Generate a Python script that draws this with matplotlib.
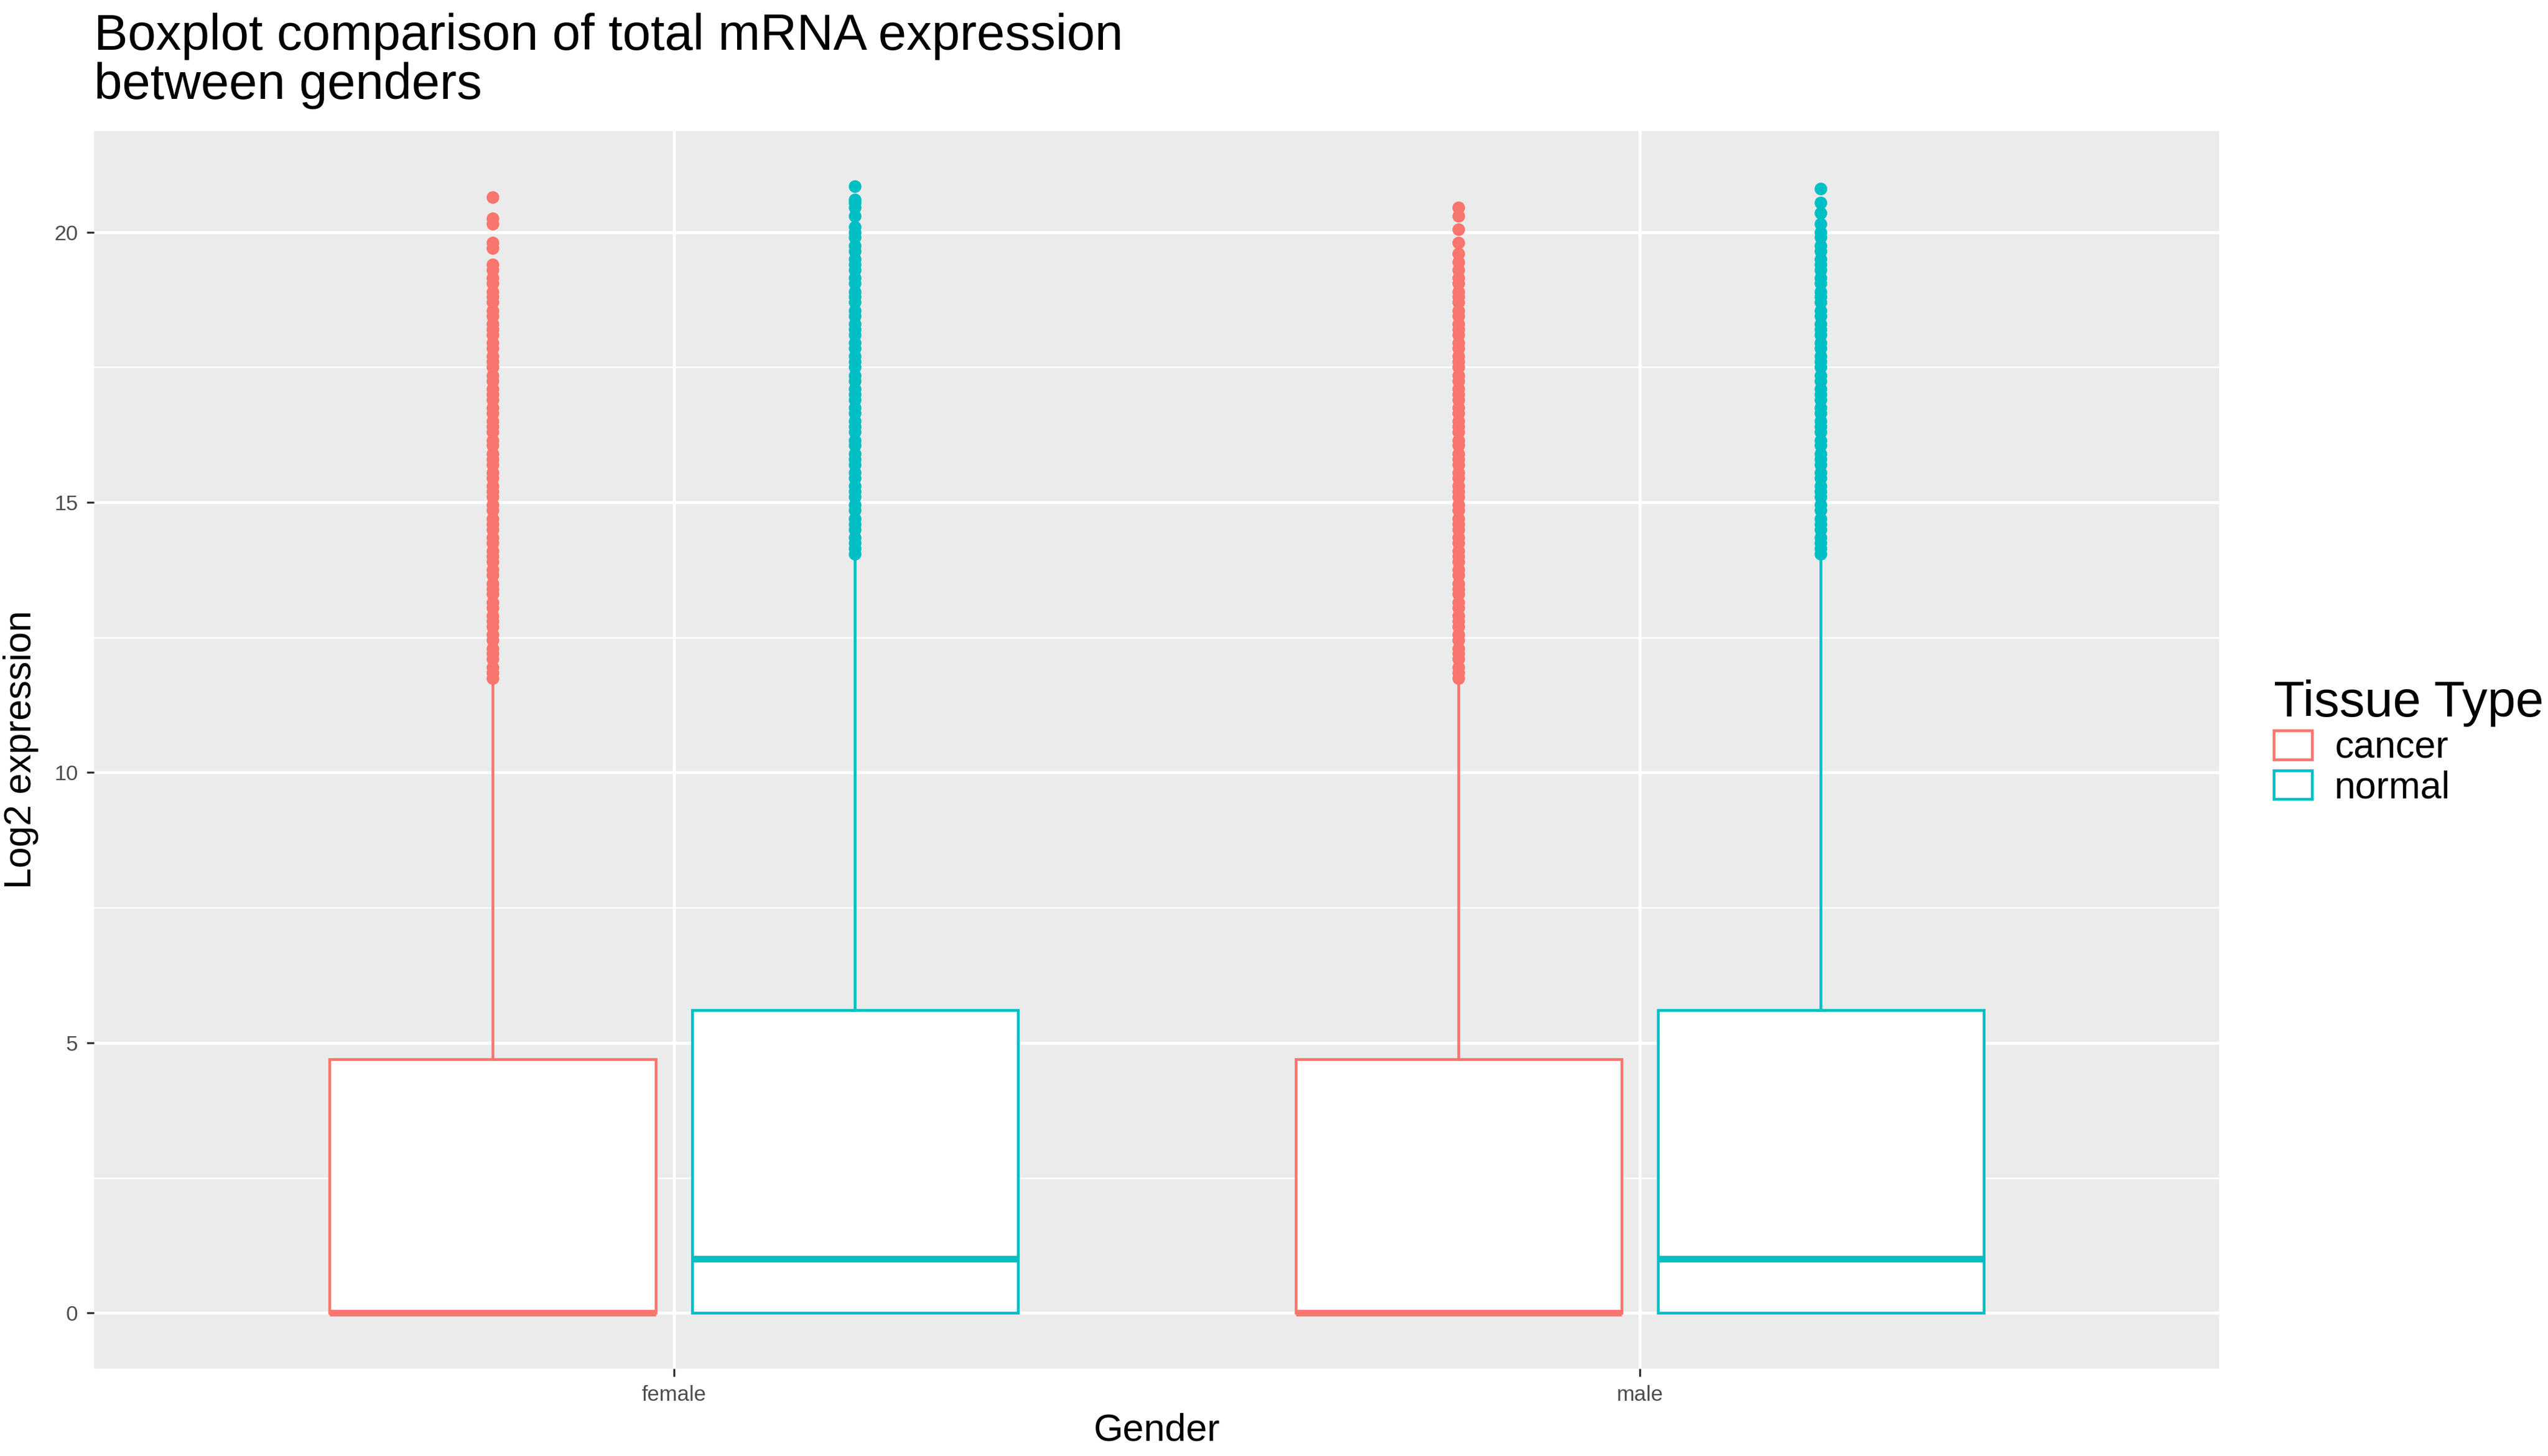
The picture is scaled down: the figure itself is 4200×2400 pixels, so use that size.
import matplotlib.pyplot as plt
from matplotlib.patches import Patch

plt.rcParams['font.family'] = ['Liberation Sans', 'DejaVu Sans']

genders = ["female", "male"]
tissues = ["cancer", "normal"]
colors = {"cancer": "#F8766D", "normal": "#00BFC4"}

# box statistics: q1, median, q3, lower/upper whisker
q1 = {"cancer": [0.0, 0.0], "normal": [0.0, 0.0]}
med = {"cancer": [0.0, 0.0], "normal": [1.0, 1.0]}
q3 = {"cancer": [4.7, 4.7], "normal": [5.6, 5.6]}
whislo = {"cancer": [0.0, 0.0], "normal": [0.0, 0.0]}
whishi = {"cancer": [11.7, 11.7], "normal": [14.0, 14.0]}

cancer_out_f = [11.75, 11.85, 11.95, 12.1, 12.2, 12.3, 12.45, 12.55, 12.7, 12.8, 12.9, 13.05, 13.15,
                13.3, 13.4, 13.5, 13.65, 13.75, 13.9, 14.0, 14.1, 14.25, 14.35, 14.5, 14.6, 14.7,
                14.85, 14.95, 15.1, 15.2, 15.3, 15.45, 15.55, 15.7, 15.8, 15.9, 16.05, 16.15,
                16.3, 16.4, 16.5, 16.65, 16.75, 16.9, 17.0, 17.1, 17.25, 17.35, 17.5, 17.6, 17.7,
                17.85, 17.95, 18.1, 18.2, 18.3, 18.45, 18.55, 18.7, 18.8, 18.9, 19.05, 19.15,
                19.3, 19.4, 19.7, 19.8, 20.15, 20.25, 20.65]
cancer_out_m = [11.75, 11.85, 11.95, 12.1, 12.2, 12.3, 12.45, 12.55, 12.7, 12.8, 12.9, 13.05, 13.15,
                13.3, 13.4, 13.5, 13.65, 13.75, 13.9, 14.0, 14.1, 14.25, 14.35, 14.5, 14.6, 14.7,
                14.85, 14.95, 15.1, 15.2, 15.3, 15.45, 15.55, 15.7, 15.8, 15.9, 16.05, 16.15,
                16.3, 16.4, 16.5, 16.65, 16.75, 16.9, 17.0, 17.1, 17.25, 17.35, 17.5, 17.6, 17.7,
                17.85, 17.95, 18.1, 18.2, 18.3, 18.45, 18.55, 18.7, 18.8, 18.9, 19.05, 19.15,
                19.3, 19.45, 19.6, 19.8, 20.05, 20.3, 20.45]
normal_out_f = [14.05, 14.15, 14.25, 14.35, 14.5, 14.6, 14.7, 14.85, 14.95, 15.1, 15.2, 15.3, 15.45,
                15.55, 15.7, 15.8, 15.9, 16.05, 16.15, 16.3, 16.4, 16.5, 16.65, 16.75, 16.9, 17.0,
                17.1, 17.25, 17.35, 17.5, 17.6, 17.7, 17.85, 17.95, 18.1, 18.2, 18.3, 18.45, 18.55,
                18.7, 18.8, 18.9, 19.05, 19.15, 19.3, 19.4, 19.5, 19.65, 19.75, 19.9, 20.0, 20.1,
                20.3, 20.45, 20.55, 20.6, 20.85]
normal_out_m = [14.05, 14.15, 14.25, 14.35, 14.5, 14.6, 14.7, 14.85, 14.95, 15.1, 15.2, 15.3, 15.45,
                15.55, 15.7, 15.8, 15.9, 16.05, 16.15, 16.3, 16.4, 16.5, 16.65, 16.75, 16.9, 17.0,
                17.1, 17.25, 17.35, 17.5, 17.6, 17.7, 17.85, 17.95, 18.1, 18.2, 18.3, 18.45, 18.55,
                18.7, 18.8, 18.9, 19.05, 19.15, 19.3, 19.4, 19.5, 19.65, 19.75, 19.9, 20.0, 20.15,
                20.35, 20.55, 20.8]
fliers = {"cancer": [cancer_out_f, cancer_out_m], "normal": [normal_out_f, normal_out_m]}

fig = plt.figure(figsize=(14, 8), dpi=300)
ax = fig.add_axes([0.037, 0.06, 0.834, 0.85])
ax.set_facecolor("#EBEBEB")

offsets = {"cancer": -0.1875, "normal": 0.1875}
for t in tissues:
    stats = []
    for i in range(len(genders)):
        stats.append(dict(q1=q1[t][i], med=med[t][i], q3=q3[t][i],
                          whislo=whislo[t][i], whishi=whishi[t][i], fliers=fliers[t][i]))
    c = colors[t]
    ax.bxp(stats, positions=[i + 1 + offsets[t] for i in range(len(genders))],
           widths=0.3375, patch_artist=True, showcaps=False,
           boxprops=dict(facecolor="white", edgecolor=c, linewidth=1.1),
           whiskerprops=dict(color=c, linewidth=1.1),
           medianprops=dict(color=c, linewidth=2.6),
           flierprops=dict(marker="o", markerfacecolor=c, markeredgecolor=c, markersize=4),
           zorder=3)

ax.set_xlim(0.4, 2.6)
ax.set_ylim(-1.03, 21.87)
ax.set_xticks([1, 2])
ax.set_xticklabels(genders)
ax.set_yticks([0, 5, 10, 15, 20])
ax.set_yticks([2.5, 7.5, 12.5, 17.5], minor=True)
ax.grid(True, which="major", color="white", linewidth=1.2, zorder=0)
ax.grid(True, which="minor", color="white", linewidth=0.6, zorder=0)
ax.set_axisbelow(True)
for s in ax.spines.values():
    s.set_visible(False)
ax.tick_params(which="major", length=3, color="#333333", labelsize=8.5, labelcolor="#4D4D4D")
ax.tick_params(which="minor", length=0)

ax.set_xlabel("Gender", fontsize=15, labelpad=3)
ax.set_ylabel("Log2 expression", fontsize=15, labelpad=6)
fig.text(0.037, 0.925, "Boxplot comparison of total mRNA expression\nbetween genders",
         fontsize=20, ha="left", va="bottom", linespacing=1.05)

handles = [Patch(facecolor="white", edgecolor=colors[t], linewidth=1.1) for t in tissues]
leg = fig.legend(handles, tissues, title="Tissue Type", loc="center left",
                 bbox_to_anchor=(0.879, 0.49), frameon=False, fontsize=15,
                 title_fontsize=20, handlelength=1.0, handleheight=0.8,
                 handletextpad=0.6, labelspacing=0.1)
leg._legend_box.align = "left"

fig.savefig("out.png", dpi=300)
